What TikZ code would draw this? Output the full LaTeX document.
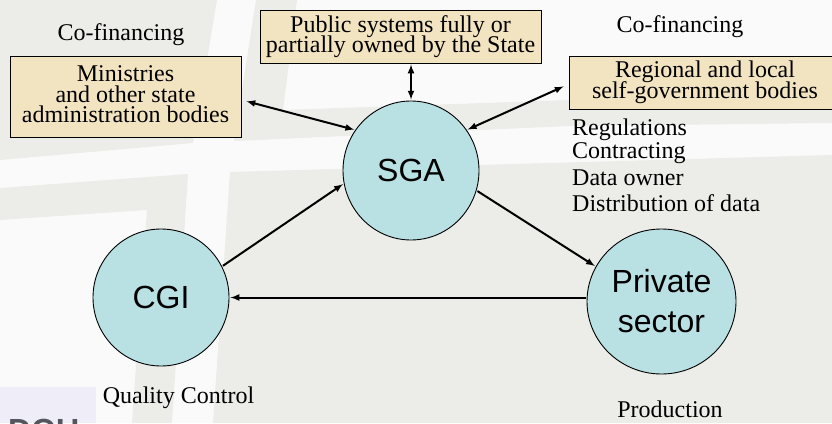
\documentclass[tikz,border=0pt]{standalone}
\usepackage{fontspec}
\setmainfont{Liberation Serif}
\setsansfont{Liberation Sans}
\usetikzlibrary{arrows,shapes.geometric}
\definecolor{backwhite}{HTML}{FAFAFA}
\definecolor{backgrey}{HTML}{ECEDE9}
\definecolor{boxfill}{HTML}{F2E4C0}
\definecolor{discfill}{HTML}{B9E0E3}
\definecolor{logofill}{HTML}{EFEEF8}
\definecolor{logotext}{HTML}{55555F}
\newcommand{\boxfont}{\fontsize{24}{20.5}\selectfont\lineskiplimit=-20pt\relax}

\begin{document}
\begin{tikzpicture}[x=1pt,y=-1pt,shorten >=1pt,shorten <=1pt]
  \tikzstyle{body}=[rectangle,draw=black,line width=0.9pt,fill=boxfill,inner sep=0pt,align=center,font=\boxfont]
  \tikzstyle{party}=[ellipse,draw=black,line width=0.9pt,fill=discfill,inner sep=0pt,align=center,font=\sffamily\fontsize{32}{40}\selectfont]
  \tikzstyle{note}=[anchor=base,inner sep=0pt,font=\fontsize{24}{24}\selectfont]
  \tikzstyle{task}=[note,anchor=base west]
  \tikzstyle{link}=[line width=2pt,-latex]
  \tikzstyle{twoway}=[line width=2pt,latex-latex]

  \useasboundingbox (0,0) rectangle (832,423);
  \fill[backwhite] (0,0) rectangle (832,423);
  \fill[backgrey] (0,0) -- (217,0) -- (193,143) -- (0,160) -- cycle;
  \fill[backgrey] (256,0) -- (297,0) -- (283,110) -- (569,100) -- (832,95) -- (832,123) -- (569,126) -- (234,141) -- cycle;
  \fill[backgrey] (230,172) -- (832,155) -- (832,423) -- (213,423) -- cycle;
  \fill[backgrey] (0,188) -- (188,174) -- (172,423) -- (132,423) -- (147,210) -- (0,220) -- cycle;
  \fill[logofill] (0,387) rectangle (96,423);
  \begin{scope}
    \clip (0,387) rectangle (96,423);
    \node[anchor=base west,inner sep=0pt,text=logotext,font=\sffamily\bfseries\fontsize{32}{32}\selectfont] (logo) at (8,441) {DOU};
  \end{scope}

  \node[body,minimum width=231pt,minimum height=81pt,text depth=4pt] (ministries) at (125.5,96.5) {Ministries\\and other state\\administration bodies};
  \node[body,minimum width=281pt,minimum height=53pt] (public) at (400.5,36.5) {Public systems fully or\\partially owned by the State};
  \node[body,minimum width=272pt,minimum height=53pt] (regional) at (705,82.5) {Regional and local\\self-government bodies};

  \node[party,minimum width=136pt,minimum height=139pt] (sga) at (411,170.5) {SGA};
  \node[party,minimum width=136pt,minimum height=137pt] (cgi) at (161,297.5) {CGI};
  \node[party,minimum width=149pt,minimum height=145pt] (private) at (661.5,301.5) {Private\\sector};

  \node[note] (leftfin) at (121,40) {Co-financing};
  \node[note] (rightfin) at (680,32) {Co-financing};
  \node[note] (quality) at (178.5,403) {Quality Control};
  \node[note] (production) at (670,417) {Production};
  \node[task] (regulations) at (572,135) {Regulations};
  \node[task] (contracting) at (572,158) {Contracting};
  \node[task] (owner) at (572,185) {Data owner};
  \node[task] (distribution) at (572,211) {Distribution of data};

  \draw[twoway] ([xshift=4pt,yshift=-4.5pt]ministries.east) -- (sga.144);
  \draw[twoway] (sga.north |- public.south) -- (sga.north);
  \draw[twoway] ([xshift=-4pt,yshift=-3.5pt]regional.west) -- (sga.36);
  \draw[link] (cgi.27) -- (sga.191);
  \draw[link] (sga.343) -- (private.152);
  \draw[link] (private.west |- cgi.east) -- (cgi.east);
\end{tikzpicture}
\end{document}
